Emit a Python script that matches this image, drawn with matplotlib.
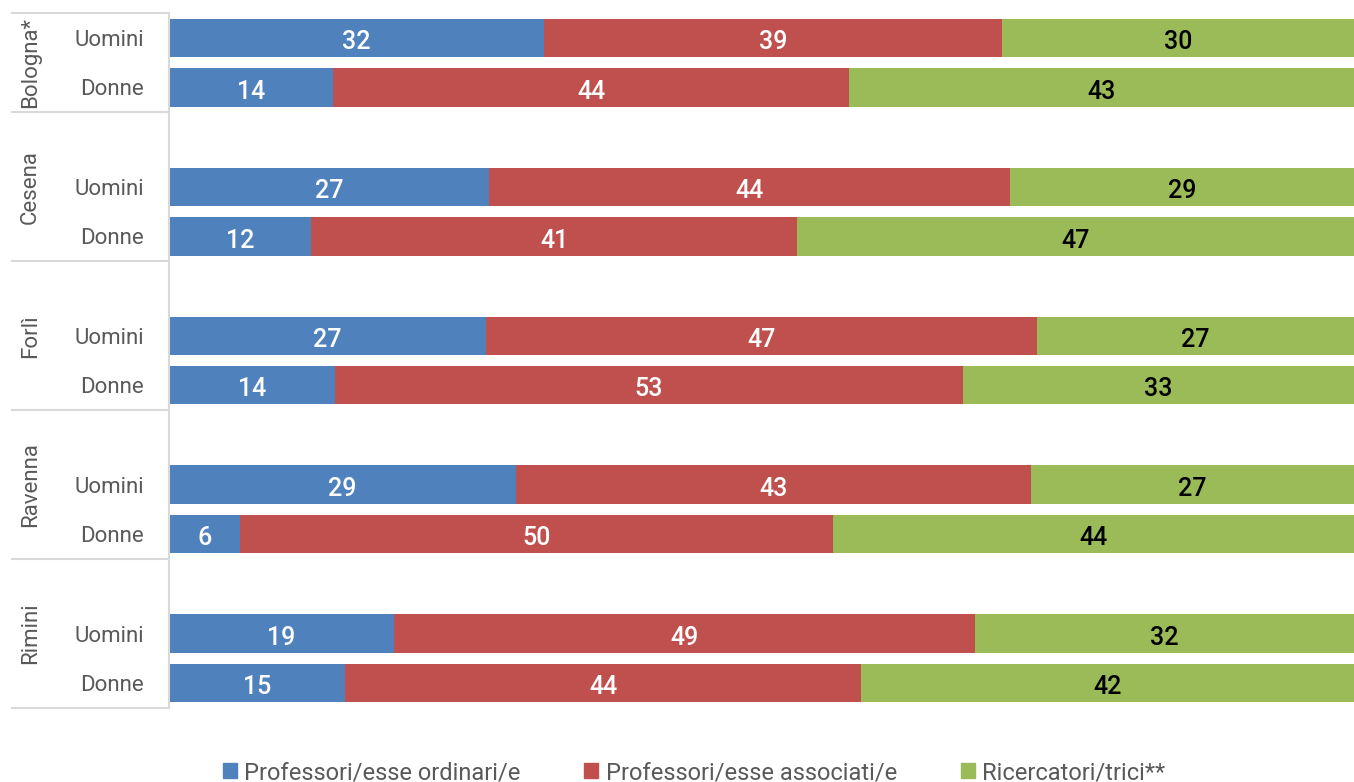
import matplotlib
matplotlib.use('Agg')
import matplotlib.pyplot as plt
from matplotlib.patches import Patch

plt.rcParams['font.family'] = ['Roboto', 'DejaVu Sans']

# Composizione del personale docente per sede e genere (%)
sedi = ['Bologna*', 'Cesena', 'Forlì', 'Ravenna', 'Rimini']
generi = ['Uomini', 'Donne']
categorie = ['Professori/esse ordinari/e', 'Professori/esse associati/e', 'Ricercatori/trici**']

ordinari = [32, 14, 27, 12, 27, 14, 29, 6, 19, 15]
associati = [39, 44, 44, 41, 47, 53, 43, 50, 49, 44]
ricercatori = [30, 43, 29, 47, 27, 33, 27, 44, 32, 42]

colori = ['#4F81BD', '#C0504D', '#9BBB59']
colori_testo = ['white', 'white', 'black']
grigio = '#595959'
linea = '#d9d9d9'

# righe: Bologna occupa 2 righe, le altre sedi hanno una riga vuota sopra
righe = []
confini = [-0.5]
r = 0
for i, sede in enumerate(sedi):
    if i > 0:
        r += 1
    righe += [r, r + 1]
    r += 2
    confini.append(r - 0.5)

fig = plt.figure(figsize=(13.54, 7.82), dpi=100)
ax = fig.add_axes([169 / 1354, 74 / 782, 1185 / 1354, 695 / 782])

# barre al 100%: ogni riga è scalata sul proprio totale
serie = [ordinari, associati, ricercatori]
totali = [sum(t) for t in zip(*serie)]
left = [0] * len(righe)
for vals, col, tcol, nome in zip(serie, colori, colori_testo, categorie):
    larg = [100 * v / t for v, t in zip(vals, totali)]
    ax.barh(righe, larg, left=left, height=0.77, color=col, label=nome)
    for y, l, w, v in zip(righe, left, larg, vals):
        ax.annotate(str(v), (l + w / 2, y), xytext=(0, -3), textcoords='offset points',
                    ha='center', va='center', color=tcol, fontsize=18, fontweight='medium')
    left = [a + b for a, b in zip(left, larg)]

ax.set_xlim(0, 100)
ax.set_ylim(confini[-1], -0.5)
ax.set_xticks([])
ax.set_yticks(righe)
ax.set_yticklabels(generi * len(sedi), fontsize=16, color=grigio)
ax.tick_params(axis='y', length=0, pad=18)
for s in ['top', 'right', 'bottom']:
    ax.spines[s].set_visible(False)
ax.spines['left'].set_color(linea)
ax.spines['left'].set_linewidth(1.5)

# separatori tra le sedi ed etichette verticali
tr = ax.get_yaxis_transform()
for y in confini:
    ax.plot([-0.1325, 0], [y, y], color=linea, lw=1.5, transform=tr, clip_on=False)
for i, sede in enumerate(sedi):
    yc = (confini[i] + confini[i + 1]) / 2
    ax.text(-0.117, yc, sede, rotation=90, ha='center', va='center',
            transform=tr, fontsize=16, color=grigio)

handles = [Patch(color=c) for c in colori]
fig.legend(handles, categorie, loc='lower center', ncol=3, frameon=False,
           bbox_to_anchor=(0.5125, -0.03), fontsize=17, labelcolor=grigio,
           handlelength=0.6, handleheight=0.6, handletextpad=0.3, columnspacing=2.7)

fig.savefig('out.png', dpi=100)
